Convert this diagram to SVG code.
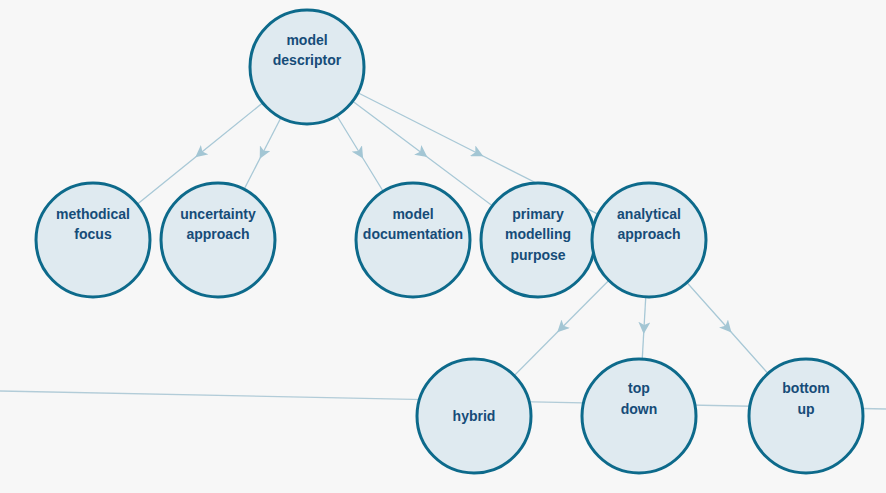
<svg xmlns="http://www.w3.org/2000/svg" width="886" height="493" viewBox="0 0 886 493">
<style>
.n{fill:#dfeaf0;stroke:#0d6a8b;stroke-width:3}
.t{font-family:"Liberation Sans",Arial,sans-serif;font-size:14px;font-weight:bold;fill:#164c78;text-anchor:middle}
.e{stroke:#a8c8d6;stroke-width:1.3;fill:none;marker-mid:url(#a)}
</style>
<defs><marker id="a" viewBox="0 0 12 12" refX="6" refY="6" markerWidth="12" markerHeight="12" markerUnits="userSpaceOnUse" orient="auto"><path d="M0,0 L12,6 L0,12 L3,6 Z" fill="#a3c6d4"/></marker></defs>
<rect width="886" height="493" fill="#f7f7f7"/>
<g id="connectors">
<line x1="0" y1="391" x2="886" y2="409" stroke="#b2ccd8" stroke-width="1.3"/>
<polyline class="e" points="307,67 200,153.5 93,240"/>
<polyline class="e" points="307,67 262.5,153.5 218,240"/>
<polyline class="e" points="307,67 360,153.5 413,240"/>
<polyline class="e" points="307,67 422.5,153.5 538,240"/>
<polyline class="e" points="307,67 478,153.5 649,240"/>
<polyline class="e" points="649,240 561.5,328 474,416"/>
<polyline class="e" points="649,240 644,328 639,416"/>
<polyline class="e" points="649,240 727.5,328 806,416"/>
</g>
<g id="model-descriptor"><circle class="n" cx="307" cy="67" r="57"/><text class="t" x="307" y="45">model</text><text class="t" x="307" y="65">descriptor</text></g>
<g id="methodical-focus"><circle class="n" cx="93" cy="240" r="57"/><text class="t" x="93" y="219">methodical</text><text class="t" x="93" y="239">focus</text></g>
<g id="uncertainty-approach"><circle class="n" cx="218" cy="240" r="57"/><text class="t" x="218" y="219">uncertainty</text><text class="t" x="218" y="239">approach</text></g>
<g id="model-documentation"><circle class="n" cx="413" cy="240" r="57"/><text class="t" x="413" y="219">model</text><text class="t" x="413" y="239">documentation</text></g>
<g id="primary-modelling-purpose"><circle class="n" cx="538" cy="240" r="57"/><text class="t" x="538" y="219">primary</text><text class="t" x="538" y="239">modelling</text><text class="t" x="538" y="260">purpose</text></g>
<g id="analytical-approach"><circle class="n" cx="649" cy="240" r="57"/><text class="t" x="649" y="219">analytical</text><text class="t" x="649" y="239">approach</text></g>
<g id="hybrid"><circle class="n" cx="474" cy="416" r="57"/><text class="t" x="474" y="421">hybrid</text></g>
<g id="top-down"><circle class="n" cx="639" cy="416" r="57"/><text class="t" x="639" y="393">top</text><text class="t" x="639" y="414">down</text></g>
<g id="bottom-up"><circle class="n" cx="806" cy="416" r="57"/><text class="t" x="806" y="393">bottom</text><text class="t" x="806" y="414">up</text></g>
</svg>
